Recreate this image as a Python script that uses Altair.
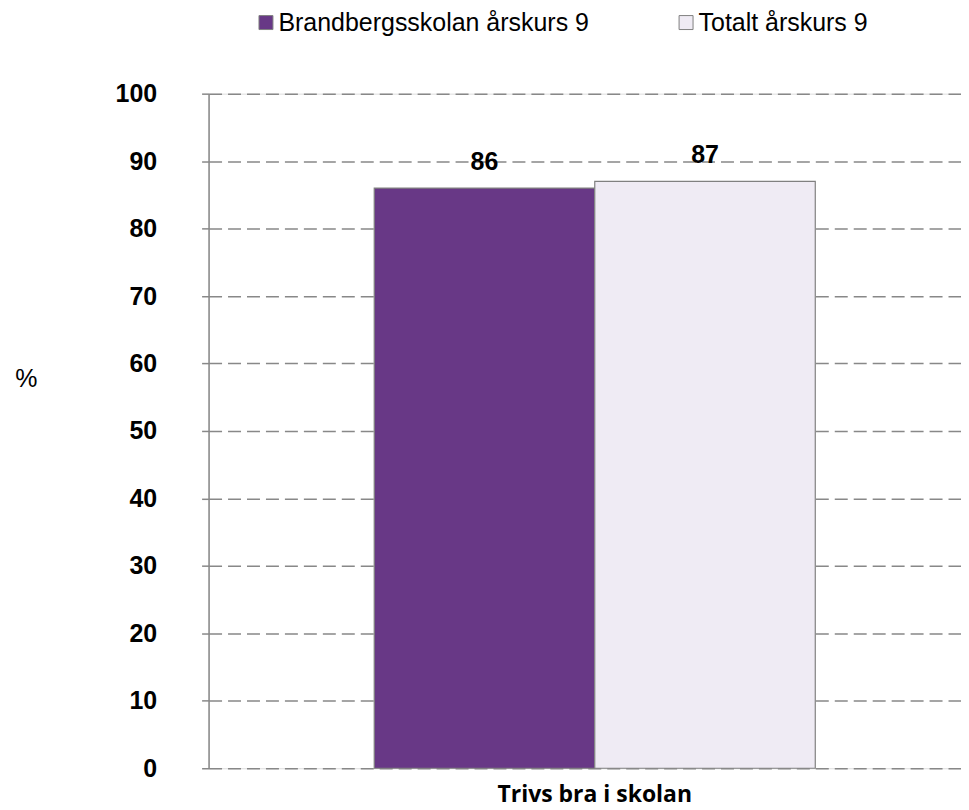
import altair as alt
import pandas as pd

categories = ["Trivs bra i skolan", "Trivs bra i skolan"]
series = ["Brandbergsskolan årskurs 9", "Totalt årskurs 9"]
values = [86, 87]
y_ticks = [0, 10, 20, 30, 40, 50, 60, 70, 80, 90, 100]
colors = ["#683886", "#EFEBF4"]

df = pd.DataFrame({"kategori": categories, "serie": series, "varde": values})

x_enc = alt.X("kategori:N",
              scale=alt.Scale(paddingOuter=0.353, paddingInner=0, align=0.532),
              axis=alt.Axis(title=None, labelAngle=0, domain=False, ticks=False, grid=False,
                            labelFont="Open Sans", labelFontWeight="bold", labelFontSize=23,
                            labelColor="#000000", labelPadding=15, labelLimit=0))
xoff = alt.XOffset("serie:N", sort=series, scale=alt.Scale(paddingInner=0, paddingOuter=0))

y_enc = alt.Y("varde:Q",
              scale=alt.Scale(domain=[0, 100], nice=False),
              axis=alt.Axis(values=y_ticks, title="%", titleAngle=0,
                            titleX=-183, titleY=285, titleAlign="center", titleBaseline="middle",
                            titleFont="Liberation Sans", titleFontSize=25, titleFontWeight="normal",
                            titleColor="#000000",
                            labelFont="Liberation Sans", labelFontSize=25, labelFontWeight="bold",
                            labelColor="#000000", labelPadding=45,
                            tickSize=7, tickColor="#888888", tickWidth=1.5,
                            domain=True, domainColor="#888888", domainWidth=1.5,
                            grid=True, gridColor="#888888", gridDash=[13, 6], gridWidth=1.5))

bars = alt.Chart(df).mark_bar(stroke="#808080", strokeWidth=1.2).encode(
    x=x_enc,
    xOffset=xoff,
    y=y_enc,
    color=alt.Color("serie:N", sort=series,
                    scale=alt.Scale(domain=series, range=colors),
                    legend=alt.Legend(title=None, orient="none", direction="horizontal",
                                      legendX=45, legendY=-84,
                                      symbolType="square", symbolSize=196,
                                      symbolStrokeColor="#808080", symbolStrokeWidth=1,
                                      labelFont="Liberation Sans", labelFontSize=25,
                                      labelColor="#000000", labelOffset=0, labelLimit=0,
                                      columnPadding=84)),
)

labels = alt.Chart(df).mark_text(dy=-26, baseline="middle", align="center",
                                 font="Liberation Sans", fontSize=25, fontWeight="bold",
                                 color="#000000").encode(
    x=alt.X("kategori:N"),
    xOffset=alt.XOffset("serie:N", sort=series),
    y=alt.Y("varde:Q"),
    text=alt.Text("varde:Q", format="d"),
)

chart = alt.layer(bars, labels).properties(
    width=754, height=676,
    autosize="none",
    padding={"left": 201, "top": 85, "right": 0, "bottom": 40},
).configure_view(stroke=None).configure(background="#ffffff")

chart.save("out.html", embed_options={"renderer": "svg", "actions": False})
